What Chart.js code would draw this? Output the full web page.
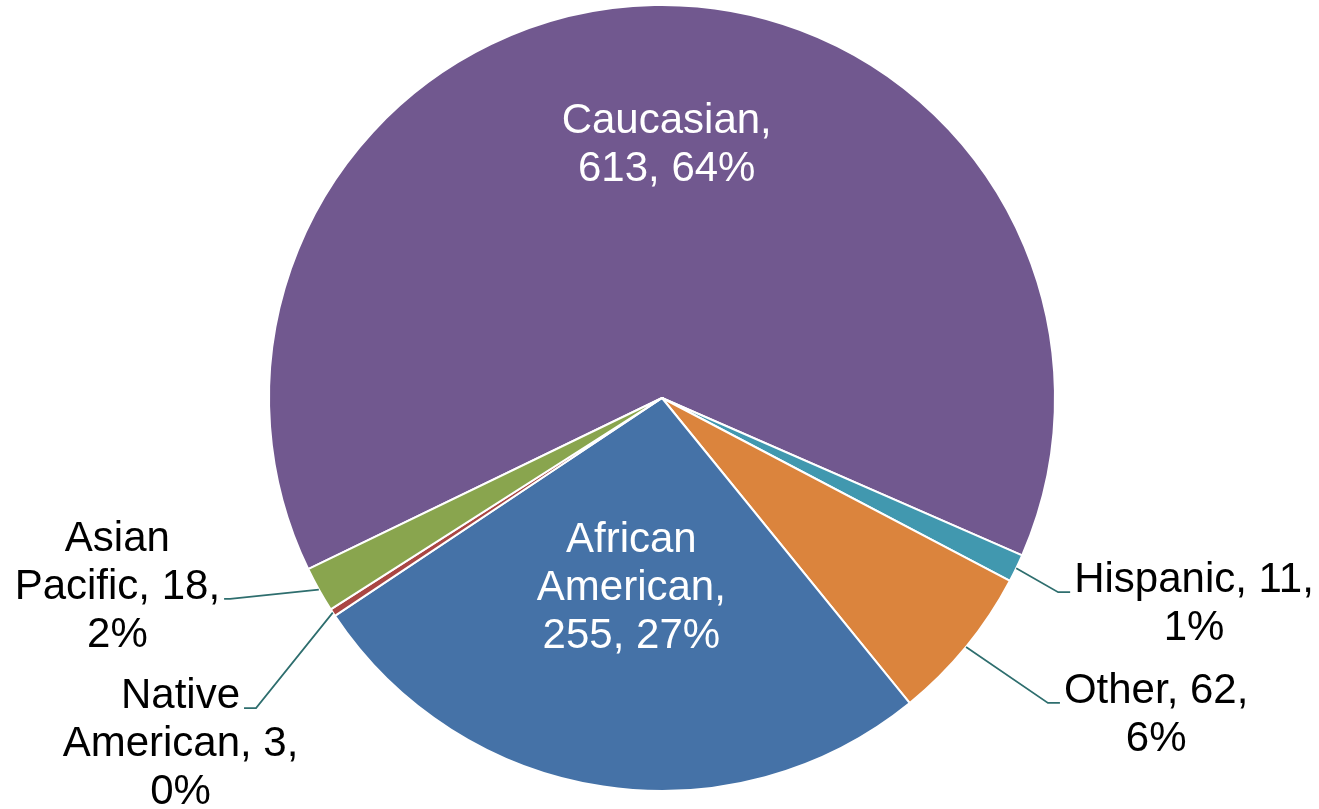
<!DOCTYPE html>
<html>
<head>
<meta charset="utf-8">
<script src="https://cdn.jsdelivr.net/npm/chart.js@4/dist/chart.umd.min.js"></script>
<style>
  html, body { margin: 0; padding: 0; background: #fff; }
  #wrap { width: 1319px; height: 809px; position: relative; }
</style>
</head>
<body>
<div id="wrap"><canvas id="pie-chart"></canvas></div>
<script>
// data, in drawing order (clockwise from the start angle)
const categories = ["Caucasian", "Hispanic", "Other", "African American", "Native American", "Asian Pacific"];
const counts = [613, 11, 62, 255, 3, 18];
const sliceColors = ["#71588F", "#4198AF", "#DB843D", "#4572A7", "#AA4643", "#89A54E"];

// label placement, in units of the pie radius from its centre
// inside labels: first baseline centre; outside labels: elbow of the leader line
const labelLayout = [
    { inside: true, x: 0.012, y: -0.674 },
    { inside: false, x: 1.008, y: 0.494, side: 1, stub: 12, line: 0 },
    { inside: false, x: 0.982, y: 0.776, side: 1, stub: 12, line: 0 },
    { inside: true, x: -0.078, y: 0.392 },
    { inside: false, x: -1.033, y: 0.789, side: -1, stub: 12, line: 0 },
    { inside: false, x: -1.099, y: 0.511, side: -1, stub: 6, line: 1 }
];

const fontSize = 42;
const lineHeight = 48;
const wrapWidth = 247;

function wrapText(ctx, text) {
    const words = text.split(" ");
    const lines = [];
    let cur = "";
    words.forEach(w => {
        const test = cur ? cur + " " + w : w;
        if (cur && ctx.measureText(test).width > wrapWidth) {
            lines.push(cur);
            cur = w;
        } else {
            cur = test;
        }
    });
    if (cur) lines.push(cur);
    return lines;
}

const pieLabels = {
    id: "pieLabels",
    afterDatasetsDraw(chart) {
        const ctx = chart.ctx;
        const meta = chart.getDatasetMeta(0);
        const total = counts.reduce((a, b) => a + b, 0);
        ctx.save();
        ctx.font = fontSize + "px 'Liberation Sans', Arial, sans-serif";
        ctx.textAlign = "center";
        ctx.textBaseline = "alphabetic";
        meta.data.forEach((arc, i) => {
            const p = arc.getProps(["x", "y", "startAngle", "endAngle", "outerRadius"], true);
            const r = p.outerRadius;
            const pct = Math.round(counts[i] / total * 100);
            const lines = wrapText(ctx, categories[i] + ", " + counts[i] + ", " + pct + "%");
            const lay = labelLayout[i];
            if (lay.inside) {
                ctx.fillStyle = "#ffffff";
                const cx = p.x + lay.x * r;
                const by = p.y + lay.y * r;
                lines.forEach((ln, k) => ctx.fillText(ln, cx, by + k * lineHeight));
                return;
            }
            const mid = (p.startAngle + p.endAngle) / 2;
            const sx = p.x + Math.cos(mid) * r;
            const sy = p.y + Math.sin(mid) * r;
            const ex = p.x + lay.x * r;
            const ey = p.y + lay.y * r;
            const tx = ex + lay.side * lay.stub;
            ctx.strokeStyle = "#2E6E6E";
            ctx.lineWidth = 1.75;
            ctx.beginPath();
            ctx.moveTo(sx, sy);
            ctx.lineTo(ex, ey);
            ctx.lineTo(tx, ey);
            ctx.stroke();
            const w = ctx.measureText(lines[lay.line]).width;
            const cx = tx + lay.side * (4 + w / 2);
            const by0 = ey - lay.line * lineHeight;
            ctx.fillStyle = "#000000";
            lines.forEach((ln, k) => ctx.fillText(ln, cx, by0 + k * lineHeight));
        });
        ctx.restore();
    }
};

const ctx = document.getElementById("pie-chart").getContext("2d");
new Chart(ctx, {
    type: "pie",
    data: {
        labels: categories,
        datasets: [{
            data: counts,
            backgroundColor: sliceColors,
            borderColor: "#ffffff",
            borderWidth: 2
        }]
    },
    options: {
        responsive: true,
        maintainAspectRatio: false,
        animation: false,
        rotation: 244.2,
        layout: { padding: { top: 4, bottom: 17, left: 5, right: 0 } },
        plugins: {
            legend: { display: false },
            tooltip: { enabled: false }
        }
    },
    plugins: [pieLabels]
});
</script>
</body>
</html>
